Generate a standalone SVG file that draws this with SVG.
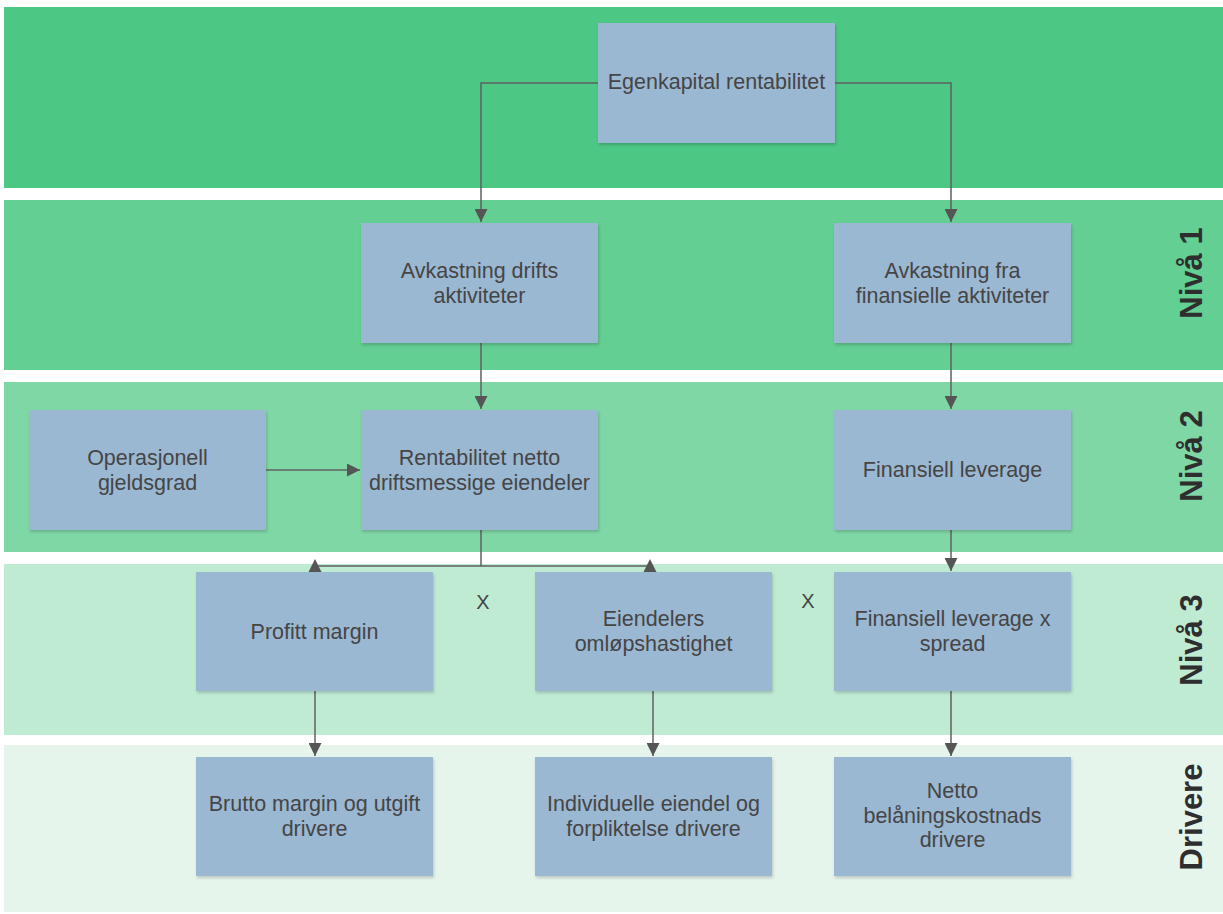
<svg xmlns="http://www.w3.org/2000/svg" width="1223" height="914" viewBox="0 0 1223 914">
<defs>
<style>
.node rect{fill:#9bb8d3;filter:url(#sh)}
.node text,.x{font-family:"Liberation Sans",Arial,sans-serif;font-size:21.5px;fill:#454545;text-anchor:middle}
.x{font-size:20px}
.lvl{font-family:"Liberation Sans",Arial,sans-serif;font-size:31px;font-weight:bold;fill:#2e2e2e;text-anchor:middle}
.edges path{fill:none;stroke:#606060;stroke-width:1.5}
</style>
<filter id="sh" x="-5%" y="-5%" width="115%" height="115%"><feDropShadow dx="1" dy="2" stdDeviation="1.5" flood-color="#000" flood-opacity="0.18"/></filter>
<marker id="ah" viewBox="0 0 10 10" refX="10" refY="5" markerWidth="14" markerHeight="13" markerUnits="userSpaceOnUse" orient="auto"><path d="M0,0 L10,5 L0,10 z" fill="#555"/></marker>
</defs>
<rect width="1223" height="914" fill="#fff"/>
<g id="bands">
<rect x="4" y="7" width="1219" height="181" fill="#4cc784"/>
<rect x="4" y="200" width="1219" height="170" fill="#63cf92"/>
<rect x="4" y="382" width="1219" height="170" fill="#7fd7a6"/>
<rect x="4" y="564" width="1219" height="171" fill="#bfebd3"/>
<rect x="4" y="745" width="1219" height="167" fill="#e5f5ec"/>
<text class="lvl" transform="translate(1202,273) rotate(-90)">Nivå 1</text>
<text class="lvl" transform="translate(1202,456) rotate(-90)">Nivå 2</text>
<text class="lvl" transform="translate(1202,640) rotate(-90)">Nivå 3</text>
<text class="lvl" transform="translate(1202,817) rotate(-90)">Drivere</text>
</g>
<g class="edges" id="connectors">
<path d="M598,83 H481 V222" marker-end="url(#ah)"/>
<path d="M835,83 H951 V222" marker-end="url(#ah)"/>
<path d="M481,343 V409" marker-end="url(#ah)"/>
<path d="M951,343 V409" marker-end="url(#ah)"/>
<path d="M266,470 H360" marker-end="url(#ah)"/>
<path d="M481,530 V566 H315"/>
<path d="M481,566 H650"/>
<path d="M951,530 V571" marker-end="url(#ah)"/>
<path d="M315,691 V756" marker-end="url(#ah)"/>
<path d="M653,691 V756" marker-end="url(#ah)"/>
<path d="M951,691 V756" marker-end="url(#ah)"/>
<polygon points="315,559 308,573 322,573" fill="#555"/>
<polygon points="650,559 643,573 657,573" fill="#555"/>
</g>
<g id="n-egenkapital" class="node"><rect x="598" y="23" width="237" height="120"/><text x="716.5" y="89">Egenkapital rentabilitet</text></g>
<g id="n-avk-drift" class="node"><rect x="361" y="223" width="237" height="120"/><text x="479.5" y="278">Avkastning drifts</text><text x="479.5" y="303">aktiviteter</text></g>
<g id="n-avk-fin" class="node"><rect x="834" y="223" width="237" height="120"/><text x="952.5" y="278">Avkastning fra</text><text x="952.5" y="303">finansielle aktiviteter</text></g>
<g id="n-operasjonell" class="node"><rect x="29" y="410" width="237" height="120"/><text x="147.5" y="465">Operasjonell</text><text x="147.5" y="490">gjeldsgrad</text></g>
<g id="n-rentabilitet" class="node"><rect x="361" y="410" width="237" height="120"/><text x="479.5" y="465">Rentabilitet netto</text><text x="479.5" y="490">driftsmessige eiendeler</text></g>
<g id="n-finlev" class="node"><rect x="834" y="410" width="237" height="120"/><text x="952.5" y="477">Finansiell leverage</text></g>
<g id="n-profitt" class="node"><rect x="196" y="572" width="237" height="119"/><text x="314.5" y="639">Profitt margin</text></g>
<g id="n-eiendelers" class="node"><rect x="535" y="572" width="237" height="119"/><text x="653.5" y="626">Eiendelers</text><text x="653.5" y="651">omløpshastighet</text></g>
<g id="n-finlevspread" class="node"><rect x="834" y="572" width="237" height="119"/><text x="952.5" y="626">Finansiell leverage x</text><text x="952.5" y="651">spread</text></g>
<g id="n-brutto" class="node"><rect x="196" y="757" width="237" height="119"/><text x="314.5" y="811">Brutto margin og utgift</text><text x="314.5" y="836">drivere</text></g>
<g id="n-individuelle" class="node"><rect x="535" y="757" width="237" height="119"/><text x="653.5" y="811">Individuelle eiendel og</text><text x="653.5" y="836">forpliktelse drivere</text></g>
<g id="n-netto" class="node"><rect x="834" y="757" width="237" height="119"/><text x="952.5" y="798">Netto</text><text x="952.5" y="823">belåningskostnads</text><text x="952.5" y="847">drivere</text></g>
<text class="x" x="483" y="609">X</text>
<text class="x" x="808" y="608">X</text>
</svg>
